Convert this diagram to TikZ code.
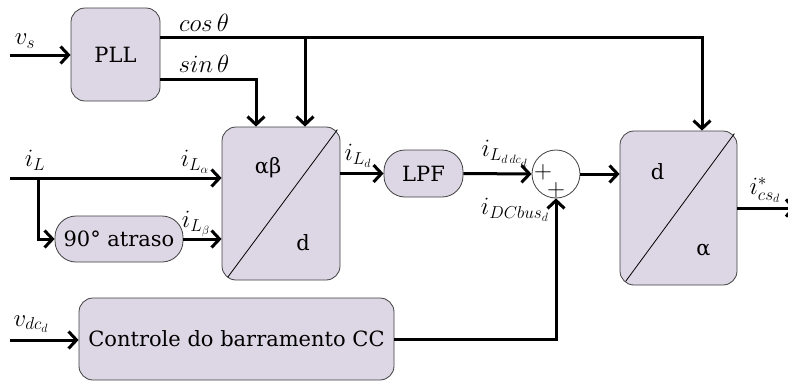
\documentclass[tikz,border=0pt]{standalone}
\usepackage{fontspec}
\usepackage{amsmath}
\usepackage{tikz}
\usetikzlibrary{positioning, calc, arrows.meta, shapes}
\setmainfont{DejaVu Serif}
\definecolor{blockfill}{RGB}{221,215,229}
\newcommand{\blockcolor}{blockfill}

\begin{document}
\begin{tikzpicture}[x=1pt, y=-1pt, every node/.style={font=\fontsize{21}{25}\selectfont}]
	\tikzstyle{blockr}=[rectangle, rounded corners=14pt, draw=black!75, line width=0.8pt, fill=\blockcolor, inner sep=0pt]
	\tikzstyle{pill}=[rectangle, rounded corners=21pt, draw=black!75, line width=0.8pt, fill=\blockcolor, inner sep=0pt]
	\tikzstyle{sumc}=[circle, draw=black!75, line width=0.8pt, fill=white, minimum size=48pt, inner sep=0pt]
	\tikzstyle{sig}=[line width=3pt, -{Straight Barb[length=8pt,width=17pt]}]
	\tikzstyle{lbl}=[inner sep=0pt, font=\fontsize{26}{30}\selectfont]
	\useasboundingbox (0,0) rectangle (788,381);
	% blocks
	\node (pll) at (115.5,54.5) [blockr, minimum width=89pt, minimum height=93pt]{PLL};
	\node (ab) at (281,203.5) [blockr, minimum width=118pt, minimum height=153pt]{};
	\node (atraso) at (119,239) [pill, minimum width=128pt, minimum height=46pt]{90° atraso};
	\node (lpf) at (423.5,173.5) [pill, minimum width=79pt, minimum height=47pt]{LPF};
	\node (sum) at (556,174) [sumc]{};
	\node (da) at (678.5,208) [blockr, minimum width=117pt, minimum height=154pt]{};
	\node (dc) at (236.5,339) [blockr, minimum width=315pt, minimum height=82pt]{Controle do barramento CC};
	% transform blocks
	\draw[line width=0.8pt] ([xshift=6pt,yshift=3pt]ab.south west) -- ([xshift=-3pt,yshift=-3pt]ab.north east);
	\node (abtop) at ([xshift=-13pt,yshift=36pt]ab.center) {αβ};
	\node (abbot) at ([xshift=22pt,yshift=-39pt]ab.center) {d};
	\draw[line width=0.8pt] ([xshift=6pt,yshift=4pt]da.south west) -- ([xshift=-3pt,yshift=-3pt]da.north east);
	\node (datop) at ([xshift=-21pt,yshift=36pt]da.center) {d};
	\node (dabot) at ([xshift=25pt,yshift=-42pt]da.center) {α};
	\node (plus1) at (543,172) [lbl]{$+$};
	\node (plus2) at (556,190) [lbl]{$+$};
	% inputs and outputs
	\coordinate (vs) at (10,55);
	\coordinate (iL) at (10,178);
	\coordinate (br) at (38,178);
	\coordinate (vdc) at (10,340);
	\coordinate (out) at (796,208);
	\coordinate (cosl) at ([yshift=17.5pt]pll.east);
	% signals
	\draw[sig] (vs) -- (vs -| pll.west);
	\draw[sig] (cosl) -| ([xshift=23.5pt]da.north);
	\draw[sig] ([xshift=24pt]ab.north |- cosl) -- ([xshift=24pt]ab.north);
	\draw[sig] ([yshift=-24.5pt]pll.east) -| ([xshift=-25pt]ab.north);
	\draw[sig] (iL) -- (iL -| ab.west);
	\draw[sig] (br) |- (atraso.west);
	\draw[sig] (atraso.east) -- (atraso.east -| ab.west);
	\draw[sig] (lpf.west -| ab.east) -- (lpf.west);
	\draw[sig] (lpf.east) -- (sum.west);
	\draw[sig] (sum.east) -- (sum.east -| da.west);
	\draw[sig] (da.east) -- (out);
	\draw[sig] (vdc) -- (vdc -| dc.west);
	\draw[sig] (dc.east) -| (sum.south);
	% labels
	\node (lvs) at (25,41) [lbl]{$v_s$};
	\node (lcos) at (204,23) [lbl]{$cos\,\theta$};
	\node (lsin) at (204,64) [lbl]{$sin\,\theta$};
	\node (liL) at (35,160) [lbl]{$i_L$};
	\node (lila) at (195,162) [lbl]{$i_{L_\alpha}$};
	\node (lilb) at (196,224) [lbl]{$i_{L_\beta}$};
	\node (lild) at (358,156) [lbl]{$i_{L_d}$};
	\node (lildc) at (505,154) [lbl]{$i_{L_{d\,dc_d}}$};
	\node (ldcb) at (515,210) [lbl]{$i_{DCbus_d}$};
	\node (lout) at (765,190) [lbl]{$i^*_{cs_d}$};
	\node (lvdc) at (31,324) [lbl]{$v_{dc_d}$};
\end{tikzpicture}
\end{document}
